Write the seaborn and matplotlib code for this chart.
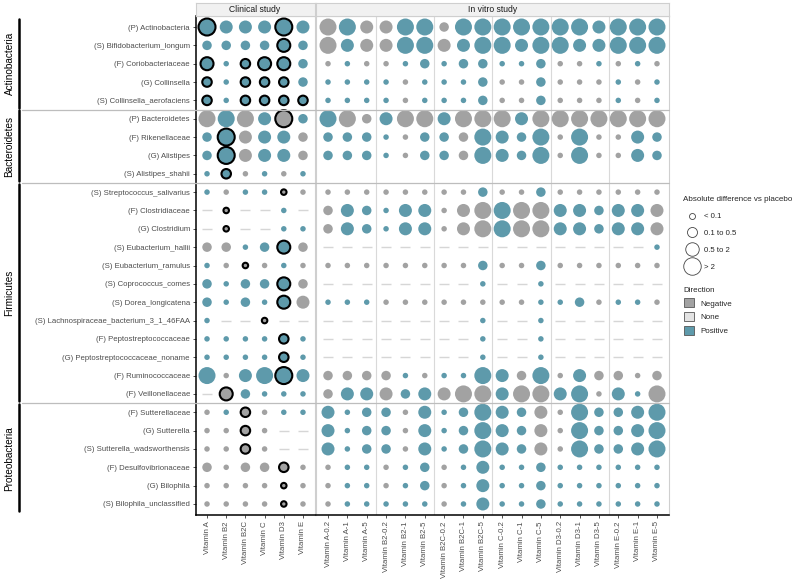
import numpy as np
import pandas as pd
import matplotlib
matplotlib.use("Agg")
import matplotlib.pyplot as plt
import matplotlib.transforms as mtrans
from matplotlib.lines import Line2D
from matplotlib.patches import Patch
import seaborn as sns

# ---------------- data ----------------
rows = [
    "(P) Actinobacteria", "(S) Bifidobacterium_longum", "(F) Coriobacteriaceae",
    "(G) Collinsella", "(S) Collinsella_aerofaciens",
    "(P) Bacteroidetes", "(F) Rikenellaceae", "(G) Alistipes", "(S) Alistipes_shahii",
    "(S) Streptococcus_salivarius", "(F) Clostridiaceae", "(G) Clostridium",
    "(S) Eubacterium_hallii", "(S) Eubacterium_ramulus", "(S) Coprococcus_comes",
    "(S) Dorea_longicatena", "(S) Lachnospiraceae_bacterium_3_1_46FAA",
    "(F) Peptostreptococcaceae", "(G) Peptostreptococcaceae_noname",
    "(F) Ruminococcaceae", "(F) Veillonellaceae",
    "(F) Sutterellaceae", "(G) Sutterella", "(S) Sutterella_wadsworthensis",
    "(F) Desulfovibrionaceae", "(G) Bilophila", "(S) Bilophila_unclassified",
]
phyla = ["Actinobacteria", "Bacteroidetes", "Firmicutes", "Proteobacteria"]
phylum_rows = [(0, 4), (5, 8), (9, 20), (21, 26)]

clinical_cols = ["Vitamin A", "Vitamin B2", "Vitamin B2C", "Vitamin C", "Vitamin D3", "Vitamin E"]
invitro_cols = ["Vitamin A-0.2", "Vitamin A-1", "Vitamin A-5",
                "Vitamin B2-0.2", "Vitamin B2-1", "Vitamin B2-5",
                "Vitamin B2C-0.2", "Vitamin B2C-1", "Vitamin B2C-5",
                "Vitamin C-0.2", "Vitamin C-1", "Vitamin C-5",
                "Vitamin D3-0.2", "Vitamin D3-1", "Vitamin D3-5",
                "Vitamin E-0.2", "Vitamin E-1", "Vitamin E-5"]

# cell code: P/N = direction (positive/negative), 1-4 = size class, * = significant,
# "-" = no change (None), "." = not measured
clinical_cells = [
    "P4* P3 P3 P3 P4* P3",
    "P2 P2 P2 P2 P3* P2",
    "P3* P1 P2* P3* P3* P2",
    "P2* P1 P2* P2* P2* P2",
    "P2* P1 P2* P2* P2* P2*",
    "N4 P4 N4 P3 N4* P2",
    "P2 P4* N3 P3 P3 N2",
    "P2 P4* N3 P3 P3 N2",
    "P1 P2* N1 P1 N1 P1",
    "P1 N1 P1 P1 N1* N1",
    "- N1* - - P1 -",
    "- N1* - - P1 P1",
    "N2 N2 P1 P2 P3* N2",
    "P1 N1 N1* N1 P1 N1",
    "P2 P1 P2 P2 P3* N2",
    "P2 P1 P2 P1 P3* N3",
    "P1 - - N1* - -",
    "P1 P1 P1 P1 P2* P1",
    "P1 P1 P1 P1 P2* P1",
    "P4 N1 P3 P4 P4* P3",
    "- N3* P2 P1 P1 P1",
    "N1 P1 N2* N1 P1 P1",
    "N1 N1 N2* N1 - -",
    "N1 N1 N2* N1 - -",
    "N2 N1 N2 N2 N2* N1",
    "N1 N1 N1 N1 N1* N1",
    "N1 N1 N1 N1 N1* N1",
]
invitro_cells = [
    "N4 P4 N3 N3 P4 P4 N2 P4 P4 P4 P4 P4 P4 P4 P3 P4 P4 P4",
    "N4 P3 N3 N3 P4 P4 N3 P3 P4 P4 P3 P4 P4 P3 P3 P4 P4 P4",
    "N1 P1 N1 N1 P1 P2 P1 P2 P2 P1 P1 P2 N1 N1 P1 N1 P1 N1",
    "P1 P1 P1 P1 N1 P1 P1 P1 P2 N1 N1 P2 N1 N1 N1 P1 N1 P1",
    "P1 P1 P1 P1 N1 P1 P1 P1 P2 N1 N1 P2 N1 N1 N1 P1 N1 P1",
    "P4 N4 N2 P3 N4 N4 P3 N4 N4 N4 P3 N4 N4 N4 N4 N4 N4 N4",
    "P2 P2 P2 P1 N1 P2 P2 N2 P4 P3 P2 P4 N1 P4 N1 N1 P3 P2",
    "P2 P2 P2 P1 N1 P2 P2 N2 P4 P3 P2 P4 N1 P4 N1 N1 P3 P2",
    ". . . . . . . . . . . . . . . . . .",
    "N1 N1 N1 N1 N1 N1 N1 N1 P2 N1 N1 P2 N1 N1 N1 N1 N1 N1",
    "N2 P3 P2 P1 P3 P3 N1 N3 N4 P4 N4 N4 P3 P3 P2 P3 P3 N3",
    "N2 P3 P2 P1 P3 P3 N1 N3 N4 P4 N4 N4 P3 P3 P2 P3 P3 N3",
    "- - - - - - - - - - - - - - - - - P1",
    "N1 N1 N1 N1 N1 N1 N1 N1 P2 N1 N1 P2 N1 N1 N1 N1 N1 N1",
    "- - - - - - - - P1 - - P1 - - - - - -",
    "P1 P1 P1 N1 N1 N1 N1 N1 N1 N1 N1 P1 P1 P2 N1 P1 P1 N1",
    "- - - - - - - - P1 - - P1 - - - - - -",
    "- - - - - - - - P1 - - P1 - - - - - -",
    "- - - - - - - - P1 - - P1 - - - - - -",
    "N2 N2 N2 N2 P1 N1 P1 P1 P4 P3 N2 P4 N1 P3 N2 N2 N1 N2",
    "N2 P3 P3 N3 P2 P3 N3 N4 N4 P3 N4 N4 P3 P4 N1 P3 P1 N4",
    "P3 P1 P2 P2 N1 P3 P1 P2 P4 P3 P2 N3 N1 P4 P2 P2 P3 P4",
    "P3 P1 P2 P2 N1 P3 P1 P2 P4 P3 P2 N3 N1 P4 P2 P2 P3 P4",
    "P3 P1 P2 P2 N1 P3 P1 P2 P4 P3 P2 N3 N1 P4 P2 P2 P3 P4",
    "N1 P1 P1 N1 P1 P2 N1 P1 P3 P1 P1 P2 P1 P1 P1 P1 P1 P1",
    "N1 P1 P1 N1 P1 P2 N1 P1 P3 P1 P1 P2 P1 P1 P1 P1 P1 P1",
    "N1 P1 P1 P1 P1 P1 N1 P1 P3 P1 P1 P2 P1 P1 P1 P1 P1 P1",
]
size_labels = ["< 0.1", "0.1 to 0.5", "0.5 to 2", "> 2"]
direction_labels = ["Negative", "None", "Positive"]

# ---------------- style ----------------
POS = "#5e9aab"
NEG = "#a2a2a2"
NONE_C = "#e3e3e3"
DASH = "#d6d6d6"
px = 0.72  # points per pixel at dpi 100
size_px = {1: 5.5, 2: 9.5, 3: 13.0, 4: 17.0}
size_map = {k: (v * px) ** 2 for k, v in size_px.items()}
palette = {"P": POS, "N": NEG}

sns.set_theme(style="white")
plt.rcParams["font.family"] = ["Liberation Sans", "DejaVu Sans"]


def to_frame(cells, cols):
    rec = []
    for ri, line in enumerate(cells):
        for ci, tok in enumerate(line.split()):
            if tok == ".":
                continue
            if tok == "-":
                rec.append(dict(row=rows[ri], col=cols[ci], yi=ri, xi=ci,
                                dir="0", size=0, sig=False))
                continue
            rec.append(dict(row=rows[ri], col=cols[ci], yi=ri, xi=ci,
                            dir=tok[0], size=int(tok[1]), sig=tok.endswith("*")))
    return pd.DataFrame(rec)


fig = plt.figure(figsize=(8.0, 5.81), dpi=100)
W, H = 800.0, 581.0
pan_bottom = 1 - 515 / H
pan_height = (515 - 16) / H
ax_c = fig.add_axes([195.5 / W, pan_bottom, (314.5 - 195.5) / W, pan_height])
ax_v = fig.add_axes([316.4 / W, pan_bottom, (668.6 - 316.4) / W, pan_height])

nrow = len(rows)
for ax, cells, cols in [(ax_c, clinical_cells, clinical_cols), (ax_v, invitro_cells, invitro_cols)]:
    df = to_frame(cells, cols)
    pts = df[df["dir"] != "0"]
    none = df[df["dir"] == "0"]
    sig = pts[pts["sig"]]
    nsig = pts[~pts["sig"]]
    if len(none):
        sns.scatterplot(data=none, x="xi", y="yi", marker="_", color=DASH,
                        s=(10 * px) ** 2, linewidth=1.0, legend=False, ax=ax)
    sns.scatterplot(data=nsig, x="xi", y="yi", hue="dir", palette=palette,
                    size="size", sizes=size_map, linewidth=0, legend=False, ax=ax)
    if len(sig):
        sns.scatterplot(data=sig, x="xi", y="yi", hue="dir", palette=palette,
                        size="size", sizes=size_map, edgecolor="black",
                        linewidth=1.5, legend=False, ax=ax, zorder=4)
    ax.set_xlim(-0.6, len(cols) - 0.4)
    ax.set_ylim(nrow - 0.4, -0.6)
    ax.set_xticks(range(len(cols)))
    ax.set_xticklabels(cols, rotation=90, fontsize=5.6, color="#4d4d4d")
    ax.set_xlabel("")
    ax.set_ylabel("")
    ax.tick_params(axis="x", length=2.5, width=0.6, color="#333333", pad=2, bottom=True)
    for s in ["top", "right", "left"]:
        ax.spines[s].set_color("#cfcfcf")
        ax.spines[s].set_linewidth(0.8)
    ax.spines["bottom"].set_color("black")
    ax.spines["bottom"].set_linewidth(1.1)
    ax.set_facecolor("white")
    ax.grid(False)

ax_c.set_yticks(range(nrow))
ax_c.set_yticklabels(rows, fontsize=5.6, color="#4d4d4d")
ax_c.tick_params(axis="y", length=2.5, width=0.6, color="#333333", pad=1.5, left=True)
ax_c.spines["left"].set_color("black")
ax_c.spines["left"].set_linewidth(1.1)
ax_v.set_yticks([])

# vertical separators between vitamin groups in vitro
for b in [2.5, 5.5, 8.5, 11.5, 14.5]:
    ax_v.axvline(b, color="#d9d9d9", lw=0.8, zorder=0)

# horizontal separators between phyla (spanning label area and both panels)
tr = mtrans.blended_transform_factory(fig.transFigure, ax_c.transData)
for (r0, r1) in phylum_rows[:-1]:
    fig.add_artist(Line2D([22 / W, 668.6 / W], [r1 + 0.5, r1 + 0.5], transform=tr,
                          color="#bdbdbd", lw=0.9))

# phylum bars and labels
for name, (r0, r1) in zip(phyla, phylum_rows):
    fig.add_artist(Line2D([18.5 / W, 18.5 / W], [r0 - 0.45, r1 + 0.4], transform=tr,
                          color="black", lw=1.8))
    fig.text(9.5 / W, 0, name, transform=tr, rotation=90, ha="center", va="center",
             fontsize=7.2, color="black").set_y((r0 + r1) / 2)

# strip headers
for ax, label in [(ax_c, "Clinical study"), (ax_v, "In vitro study")]:
    pos = ax.get_position()
    sax = fig.add_axes([pos.x0, 1 - 15.5 / H, pos.width, 12.5 / H])
    sax.set_facecolor("#f1f1f1")
    sax.set_xticks([])
    sax.set_yticks([])
    for s in sax.spines.values():
        s.set_color("#cfcfcf")
        s.set_linewidth(0.8)
    sax.text(0.5, 0.45, label, ha="center", va="center", fontsize=6.2,
             color="#1a1a1a", transform=sax.transAxes)

# legends
leg_px = [6.0, 10.0, 13.5, 17.5]
size_handles = [Line2D([], [], marker="o", linestyle="", markersize=d * px,
                       markerfacecolor="white", markeredgecolor="#444444",
                       markeredgewidth=0.6, label=lab)
                for d, lab in zip(leg_px, size_labels)]
leg1 = fig.legend(handles=size_handles, title="Absolute difference vs placebo",
                  loc="upper left", bbox_to_anchor=(678 / W, 1 - 191 / H),
                  frameon=False, fontsize=5.6, title_fontsize=5.8,
                  labelspacing=1.2, handletextpad=0.5, borderpad=0.2,
                  handlelength=2.2)
leg1._legend_box.align = "left"
dir_handles = [Patch(facecolor=c, edgecolor="#555555", linewidth=0.6, label=lab)
               for c, lab in zip([NEG, NONE_C, POS], direction_labels)]
leg2 = fig.legend(handles=dir_handles, title="Direction",
                  loc="upper left", bbox_to_anchor=(678 / W, 1 - 281 / H),
                  frameon=False, fontsize=5.8, title_fontsize=5.8,
                  labelspacing=0.6, handletextpad=0.8, borderpad=0.2,
                  handlelength=1.3, handleheight=1.3)
leg2._legend_box.align = "left"

fig.savefig("out.png", dpi=100, facecolor="white")
